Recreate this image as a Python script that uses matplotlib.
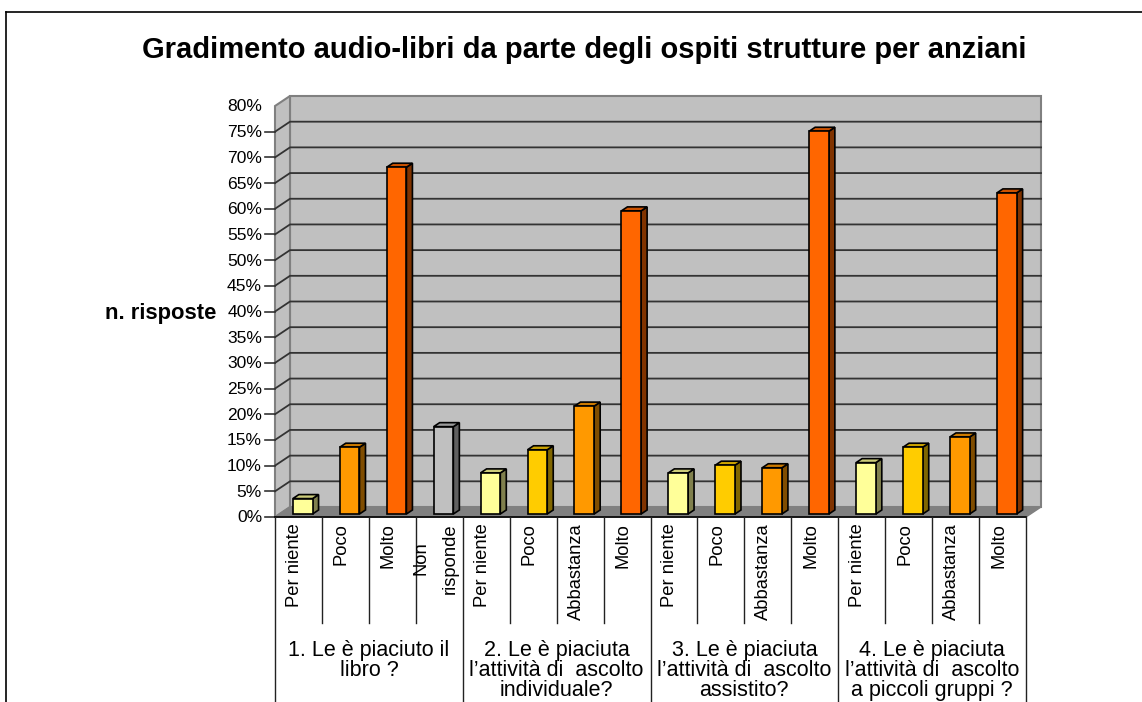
# -*- coding: utf-8 -*-
import matplotlib
matplotlib.use('Agg')
import matplotlib.pyplot as plt
from matplotlib.colors import to_rgb
from matplotlib.patches import Polygon

plt.rcParams['font.family'] = ['Liberation Sans', 'DejaVu Sans']

title = 'Gradimento audio-libri da parte degli ospiti strutture per anziani'
y_label = 'n. risposte'
y_ticks = list(range(0, 85, 5))

groups = ['1. Le è piaciuto il\nlibro ?',
          '2. Le è piaciuta\nl’attività di  ascolto\nindividuale?',
          '3. Le è piaciuta\nl’attività di  ascolto\nassistito?',
          '4. Le è piaciuta\nl’attività di  ascolto\na piccoli gruppi ?']
labels = ['Per niente', 'Poco', 'Molto', 'Non\nrisponde',
          'Per niente', 'Poco', 'Abbastanza', 'Molto',
          'Per niente', 'Poco', 'Abbastanza', 'Molto',
          'Per niente', 'Poco', 'Abbastanza', 'Molto']
values = [3, 13, 67.5, 17,
          8, 12.5, 21, 59,
          8, 9.5, 9, 74.5,
          10, 13, 15, 62.5]
colors = ['#ffff99', '#ff9900', '#ff6600', '#c0c0c0',
          '#ffff99', '#ffcc00', '#ff9900', '#ff6600',
          '#ffff99', '#ffcc00', '#ff9900', '#ff6600',
          '#ffff99', '#ffcc00', '#ff9900', '#ff6600']

W, H = 1142, 702
fig = plt.figure(figsize=(W / 100, H / 100), dpi=100)
# plot front plane: x 275..1026, y 106..517 in pixels
ax = fig.add_axes([275 / W, 1 - 517 / H, 751 / W, 411 / H])
ax.set_xlim(0, 16)
ax.set_ylim(0, 80)
ax.axis('off')

px = 16 / 751.0
py = 80 / 411.0
dx = 15 * px  # depth of the chart box
dy = 10 * py


def shade(c, f):
    return tuple(v * f for v in to_rgb(c))


# walls and floor
ax.add_patch(Polygon([(dx, dy), (16 + dx, dy), (16 + dx, 80 + dy), (dx, 80 + dy)],
                     fc='#c0c0c0', ec='#808080', lw=1.5, clip_on=False, zorder=1))
ax.add_patch(Polygon([(0, 0), (dx, dy), (dx, 80 + dy), (0, 80)],
                     fc='#c0c0c0', ec='#808080', lw=1.5, clip_on=False, zorder=1))
ax.add_patch(Polygon([(0, 0), (16, 0), (16 + dx, dy), (dx, dy)],
                     fc='#808080', ec='#808080', lw=1, clip_on=False, zorder=2))

# gridlines and ticks
for t in y_ticks:
    if 0 < t < 80:
        ax.plot([0, dx, 16 + dx], [t, t + dy, t + dy], color='#333333', lw=1.3,
                clip_on=False, zorder=1.5)
    if t < 80:
        ax.plot([-10 * px, 0], [t, t], color='#333333', lw=1.2, clip_on=False, zorder=3)
    ax.text(-13 * px, t - 1 * py, '%d%%' % t, ha='right', va='center', fontsize=12.6, color='black')
ax.plot([0, 16], [0, 0], color='black', lw=1.2, clip_on=False, zorder=3)

# 3d bars
bw = 0.42
bx = 0.09
base = 3 * py
bdx = 6 * px
bdy = 4 * py
for i, v in enumerate(values):
    c = colors[i]
    x0 = i + 0.5 - bw / 2 + bx
    x1 = x0 + bw
    top = base + v
    ax.bar(x0, v, width=bw, bottom=base, align='edge', color=c, edgecolor='black',
           lw=1.2, zorder=5, clip_on=False)
    ax.add_patch(Polygon([(x1, base), (x1 + bdx, base + bdy), (x1 + bdx, top + bdy), (x1, top)],
                         fc=shade(c, 0.5), ec='black', lw=1.2, clip_on=False, zorder=4))
    ax.add_patch(Polygon([(x0, top), (x0 + bdx, top + bdy), (x1 + bdx, top + bdy), (x1, top)],
                         fc=shade(c, 0.8), ec='black', lw=1.2, clip_on=False, zorder=4))

# category table below the plot
for k in range(17):
    low = -185 * py if k % 4 == 0 else -106 * py
    ax.plot([k, k], [0, low], color='#222222', lw=1, clip_on=False, zorder=3)
for i, lab in enumerate(labels):
    xt = i + 0.5 - 4 * px
    ax.text(xt, -6 * py, lab, rotation=90, ha='center', va='top', ma='center',
            fontsize=13.2, linespacing=1.94, color='black')
for g, lab in enumerate(groups):
    ax.text(g * 4 + 2, -123 * py, lab, ha='center', va='top', fontsize=15.5,
            linespacing=0.95, color='black')

fig.text(105 / W, 1 - 314 / H, y_label, ha='left', va='center', fontsize=15.8, fontweight='bold')
fig.text(584 / W, 1 - 50 / H, title, ha='center', va='center', fontsize=21, fontweight='bold')

# outer frame, left and top only
fig.add_artist(plt.Line2D([6 / W, 6 / W], [0, 1 - 12 / H], color='black', lw=1.2))
fig.add_artist(plt.Line2D([6 / W, 1], [1 - 12 / H, 1 - 12 / H], color='black', lw=1.2))

fig.savefig('out.png', dpi=100)
